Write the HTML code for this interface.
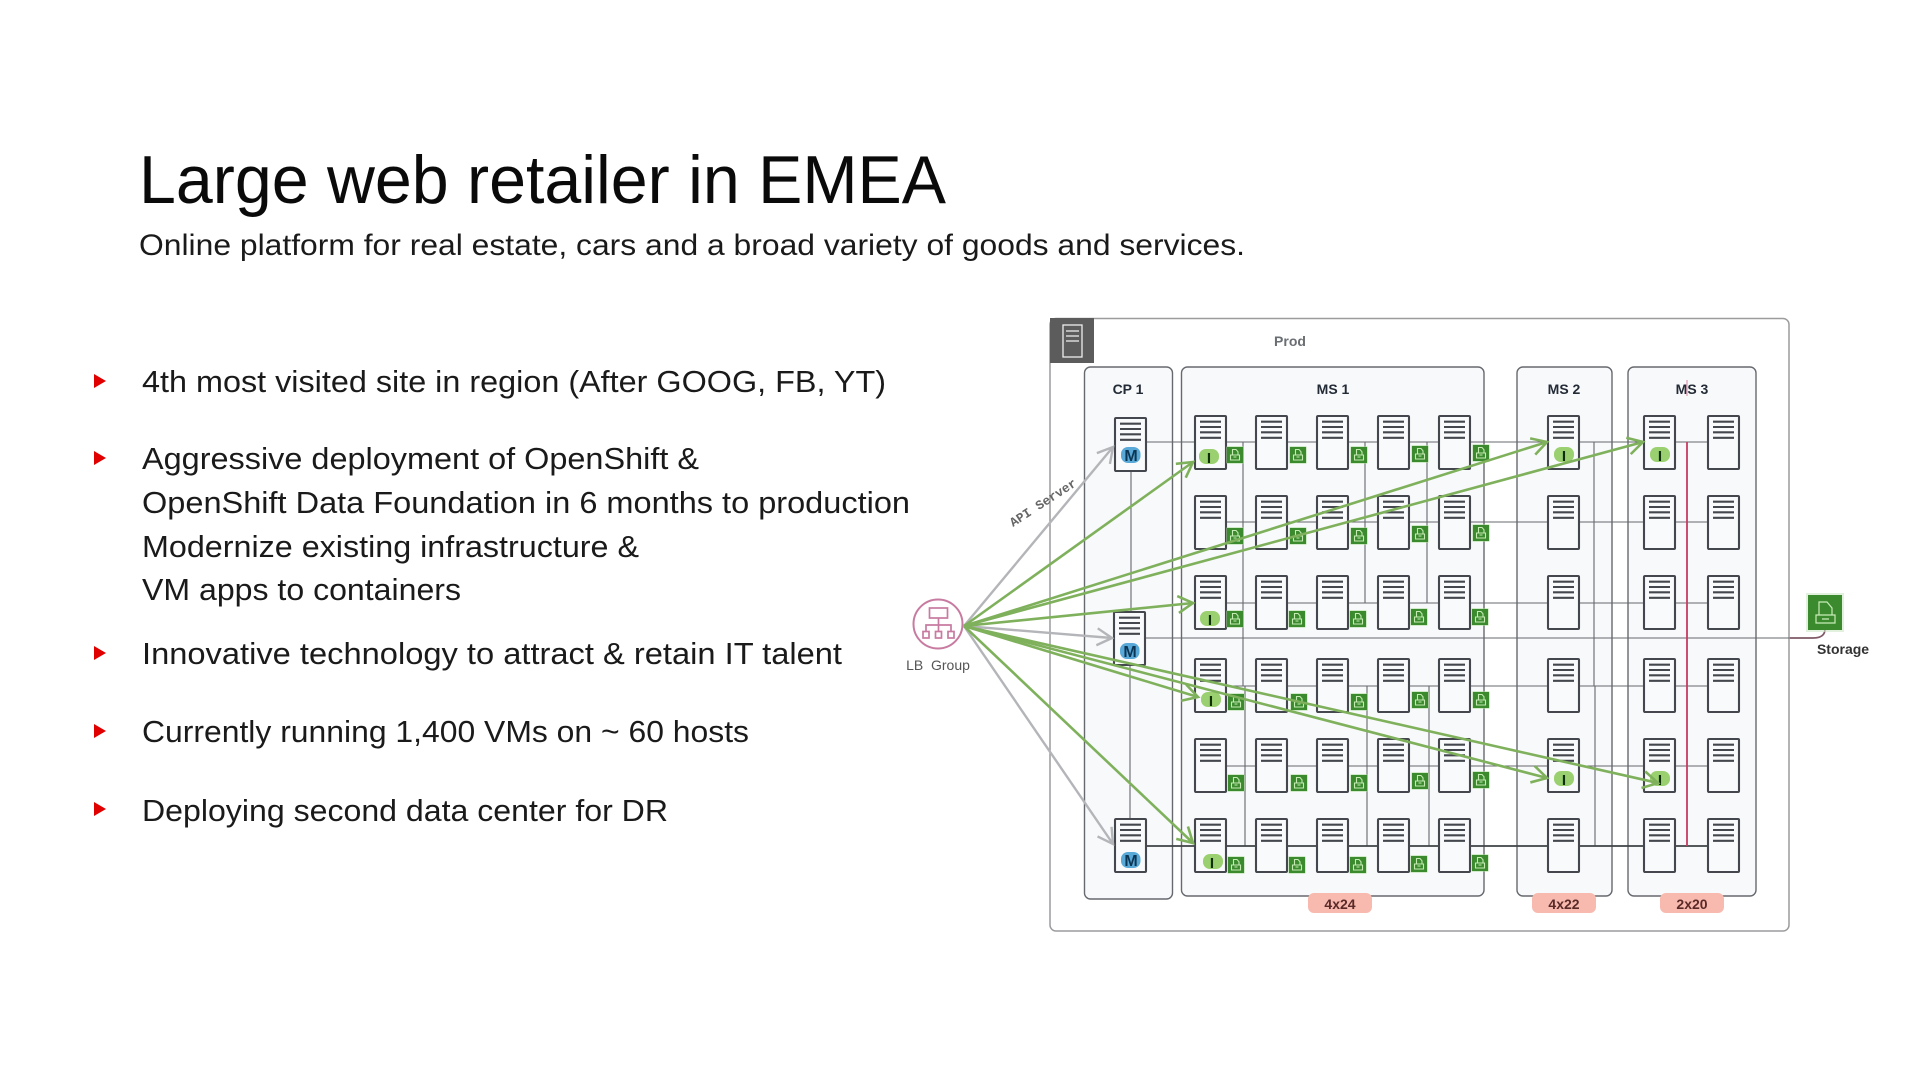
<!DOCTYPE html>
<html lang="en"><head><meta charset="utf-8"><title>Large web retailer in EMEA</title>
<style>
html,body{margin:0;padding:0;background:#fff;width:1920px;height:1080px;overflow:hidden}
svg{display:block}
text{font-family:"Liberation Sans",sans-serif}
.b{font-size:31px;fill:#1a1a1a}
.h{font-size:14px;font-weight:bold;fill:#232b36;text-anchor:middle}
.p{font-size:14px;font-weight:bold;fill:#5a2a28;text-anchor:middle}
.m{font-size:16px;font-weight:bold;fill:#0c3554;text-anchor:middle}
.i{font-size:15px;font-weight:bold;fill:#0f2f0c;text-anchor:middle}
</style></head><body>
<svg width="1920" height="1080" viewBox="0 0 1920 1080" xmlns="http://www.w3.org/2000/svg">
<defs>
<g id="s"><rect x="0" y="0" width="31" height="53" fill="#f9fafb" stroke="#44484e" stroke-width="2.100" rx="1"/>
<path d="M5 5.700H26M5 11H26M5 16.300H26M5 21.800H26" stroke="#44484e" stroke-width="2.100" fill="none"/></g>
<g id="ic"><rect x="-1" y="-1" width="18" height="18" fill="#a9dc98" opacity=".5" rx="2"/><rect width="16" height="16" fill="#3b8a2d"/>
<path d="M5.500 2.500H9L11 4.800V8H5.500ZM3.500 8H12.500V13H3.500ZM6.500 10H9.500" fill="none" stroke="#c3ebb2" stroke-width="1.100"/></g>
<rect id="bi" width="20" height="15" rx="7" fill="#9ad06f"/>
<rect id="bm" width="19.500" height="16" rx="7" fill="#58a8d8"/>
<marker id="ag" markerUnits="userSpaceOnUse" markerWidth="24" markerHeight="24" refX="20" refY="12" orient="auto" overflow="visible"><path d="M5 3.500L20 12L5 20.500" fill="none" stroke="#7fb15c" stroke-width="2.600"/></marker>
<marker id="aw" markerUnits="userSpaceOnUse" markerWidth="24" markerHeight="24" refX="20" refY="12" orient="auto" overflow="visible"><path d="M5 3.500L20 12L5 20.500" fill="none" stroke="#b4b5b9" stroke-width="2.400"/></marker>
</defs>

<!-- Text -->
<text x="139" y="203" font-size="68" fill="#0a0a0a" textLength="807" lengthAdjust="spacingAndGlyphs">Large web retailer in EMEA</text>
<text x="139" y="255" font-size="30" fill="#1a1a1a" textLength="1106" lengthAdjust="spacingAndGlyphs">Online platform for real estate, cars and a broad variety of goods and services.</text>
<path d="M94 374L106 381L94 388ZM94 451L106 458L94 465ZM94 646L106 653L94 660ZM94 724L106 731L94 738ZM94 802L106 809L94 816Z" fill="#e00000"/>
<text class="b" x="142" y="392" textLength="744" lengthAdjust="spacingAndGlyphs">4th most visited site in region (After GOOG, FB, YT)</text>
<text class="b" x="142" y="469" textLength="557" lengthAdjust="spacingAndGlyphs">Aggressive deployment of OpenShift &amp;</text>
<text class="b" x="142" y="513" textLength="768" lengthAdjust="spacingAndGlyphs">OpenShift Data Foundation in 6 months to production</text>
<text class="b" x="142" y="557" textLength="497" lengthAdjust="spacingAndGlyphs">Modernize existing infrastructure &amp;</text>
<text class="b" x="142" y="600" textLength="319" lengthAdjust="spacingAndGlyphs">VM apps to containers</text>
<text class="b" x="142" y="664" textLength="700" lengthAdjust="spacingAndGlyphs">Innovative technology to attract &amp; retain IT talent</text>
<text class="b" x="142" y="742" textLength="607" lengthAdjust="spacingAndGlyphs">Currently running 1,400 VMs on ~ 60 hosts</text>
<text class="b" x="142" y="821" textLength="526" lengthAdjust="spacingAndGlyphs">Deploying second data center for DR</text>

<!-- Containers -->
<rect x="1050" y="318.500" width="739" height="612.500" rx="6" fill="#fff" stroke="#9c9c9f" stroke-width="1.500"/>
<rect x="1050" y="318" width="44" height="45" fill="#5c5c5c"/>
<rect x="1063" y="325" width="19" height="32" fill="none" stroke="#eee" stroke-width="1.300"/>
<path d="M1066 331H1079M1066 336H1079M1066 341H1079" stroke="#eee" stroke-width="1.200"/>
<text x="1290" y="346" font-size="14" font-weight="bold" fill="#6a6e73" text-anchor="middle">Prod</text>
<g fill="#f8f9fa" stroke="#66696e" stroke-width="1.400">
<rect x="1084.500" y="367" width="88" height="532" rx="6"/>
<rect x="1181.500" y="367" width="302.500" height="529" rx="6"/>
<rect x="1517" y="367" width="95" height="529" rx="6"/>
<rect x="1628" y="367" width="128" height="529" rx="6"/>
</g>
<text class="h" x="1128" y="394">CP 1</text><text class="h" x="1333" y="394">MS 1</text><text class="h" x="1564" y="394">MS 2</text><text class="h" x="1692" y="394">MS 3</text>
<g fill="#f8b9ae"><rect x="1308" y="893" width="64" height="20" rx="6"/><rect x="1532" y="893" width="64" height="20" rx="6"/><rect x="1660" y="893" width="64" height="20" rx="6"/></g>
<text class="p" x="1340" y="909">4x24</text><text class="p" x="1564" y="909">4x22</text><text class="p" x="1692" y="909">2x20</text>

<!-- Connectors -->
<g fill="none" stroke="#65686d" stroke-width="1.100">
<path d="M1146 442H1708M1226 522H1708M1226 603H1708M1226 686H1708M1226 766H1708"/>
<path d="M1243 442V686M1245 686V846M1365 442V603M1367 686V846M1427 442V603M1429 686V846M1594 442V686M1595 686V846"/>
<path d="M1131 472V612M1130 665V819"/>
<path d="M1145 638H1790"/>
</g>
<path d="M1146 846H1708" fill="none" stroke="#3f4246" stroke-width="1.700"/>
<path d="M1687 442V846" stroke="#c63a63" stroke-width="1.800"/>
<path d="M1687 380V396" stroke="#d98aa2" stroke-width="1.500" opacity=".7"/>
<path d="M1790 638H1813Q1825 638 1825 629" fill="none" stroke="#7f5a66" stroke-width="1.700"/>

<!-- Servers -->
<use href="#s" x="1115" y="418"/><use href="#s" x="1114" y="612"/><use href="#s" x="1115" y="819"/>
<use href="#s" x="1195" y="416"/><use href="#s" x="1256" y="416"/><use href="#s" x="1317" y="416"/><use href="#s" x="1378" y="416"/><use href="#s" x="1439" y="416"/>
<use href="#s" x="1195" y="496"/><use href="#s" x="1256" y="496"/><use href="#s" x="1317" y="496"/><use href="#s" x="1378" y="496"/><use href="#s" x="1439" y="496"/>
<use href="#s" x="1195" y="576"/><use href="#s" x="1256" y="576"/><use href="#s" x="1317" y="576"/><use href="#s" x="1378" y="576"/><use href="#s" x="1439" y="576"/>
<use href="#s" x="1195" y="659"/><use href="#s" x="1256" y="659"/><use href="#s" x="1317" y="659"/><use href="#s" x="1378" y="659"/><use href="#s" x="1439" y="659"/>
<use href="#s" x="1195" y="739"/><use href="#s" x="1256" y="739"/><use href="#s" x="1317" y="739"/><use href="#s" x="1378" y="739"/><use href="#s" x="1439" y="739"/>
<use href="#s" x="1195" y="819"/><use href="#s" x="1256" y="819"/><use href="#s" x="1317" y="819"/><use href="#s" x="1378" y="819"/><use href="#s" x="1439" y="819"/>
<use href="#s" x="1548" y="416"/><use href="#s" x="1548" y="496"/><use href="#s" x="1548" y="576"/><use href="#s" x="1548" y="659"/><use href="#s" x="1548" y="739"/><use href="#s" x="1548" y="819"/>
<use href="#s" x="1644" y="416"/><use href="#s" x="1644" y="496"/><use href="#s" x="1644" y="576"/><use href="#s" x="1644" y="659"/><use href="#s" x="1644" y="739"/><use href="#s" x="1644" y="819"/>
<use href="#s" x="1708" y="416"/><use href="#s" x="1708" y="496"/><use href="#s" x="1708" y="576"/><use href="#s" x="1708" y="659"/><use href="#s" x="1708" y="739"/><use href="#s" x="1708" y="819"/>

<!-- Storage icons -->
<use href="#ic" x="1227" y="447"/><use href="#ic" x="1290" y="447"/><use href="#ic" x="1351" y="447"/><use href="#ic" x="1412" y="446"/><use href="#ic" x="1473" y="445"/>
<use href="#ic" x="1227" y="528"/><use href="#ic" x="1290" y="528"/><use href="#ic" x="1351" y="528"/><use href="#ic" x="1412" y="526"/><use href="#ic" x="1473" y="525"/>
<use href="#ic" x="1227" y="611"/><use href="#ic" x="1289" y="611"/><use href="#ic" x="1350" y="611"/><use href="#ic" x="1411" y="609"/><use href="#ic" x="1472" y="609"/>
<use href="#ic" x="1228" y="694"/><use href="#ic" x="1291" y="694"/><use href="#ic" x="1351" y="694"/><use href="#ic" x="1412" y="692"/><use href="#ic" x="1473" y="692"/>
<use href="#ic" x="1228" y="775"/><use href="#ic" x="1291" y="775"/><use href="#ic" x="1351" y="775"/><use href="#ic" x="1412" y="773"/><use href="#ic" x="1473" y="772"/>
<use href="#ic" x="1228" y="857"/><use href="#ic" x="1289" y="857"/><use href="#ic" x="1350" y="857"/><use href="#ic" x="1411" y="856"/><use href="#ic" x="1472" y="855"/>

<!-- Badges -->
<use href="#bm" x="1121" y="447"/><text class="m" x="1131" y="461">M</text>
<use href="#bm" x="1120" y="643"/><text class="m" x="1130" y="657">M</text>
<use href="#bm" x="1121" y="852"/><text class="m" x="1131" y="866">M</text>
<use href="#bi" x="1199" y="449"/><text class="i" x="1209" y="463">I</text>
<use href="#bi" x="1200" y="611"/><text class="i" x="1210" y="625">I</text>
<use href="#bi" x="1201" y="692"/><text class="i" x="1211" y="706">I</text>
<use href="#bi" x="1203" y="854"/><text class="i" x="1212" y="868">I</text>
<use href="#bi" x="1554" y="447"/><text class="i" x="1564" y="461">I</text>
<use href="#bi" x="1650" y="447"/><text class="i" x="1660" y="461">I</text>
<use href="#bi" x="1554" y="771"/><text class="i" x="1564" y="785">I</text>
<use href="#bi" x="1650" y="771"/><text class="i" x="1660" y="785">I</text>

<!-- Storage node -->
<rect x="1806" y="593" width="38" height="39" fill="#cfe8c6" opacity=".6"/>
<rect x="1808" y="595" width="34" height="35" fill="#3b8a2d"/>
<path d="M1819 602H1827L1832 608V615H1819ZM1816 615H1835V623H1816ZM1822 619H1829" fill="none" stroke="#c8ecb8" stroke-width="1.200"/>
<text x="1843" y="654" font-size="14" font-weight="bold" fill="#333" text-anchor="middle">Storage</text>

<!-- LB -->
<circle cx="938" cy="624" r="24.500" fill="#fff" stroke="#c87ba0" stroke-width="2"/>
<g fill="none" stroke="#c87ba0" stroke-width="1.700">
<rect x="929.500" y="608" width="18" height="10"/>
<path d="M938.500 618V625M926 631V625H951V631M938.500 625V631"/>
<rect x="923" y="631.500" width="6" height="6.500"/><rect x="935.500" y="631.500" width="6" height="6.500"/><rect x="948" y="631.500" width="6" height="6.500"/>
</g>
<text x="938" y="670" font-size="14" fill="#555" text-anchor="middle" xml:space="preserve">LB  Group</text>

<!-- Arrows -->
<g fill="none" stroke="#b4b5b9" stroke-width="2.400">
<path d="M964 626L1113 447" marker-end="url(#aw)"/>
<path d="M964 626L1112 638" marker-end="url(#aw)"/>
<path d="M964 626L1113 844" marker-end="url(#aw)"/>
</g>
<g fill="none" stroke="#7fb15c" stroke-width="2.600">
<path d="M964 626L1193 462" marker-end="url(#ag)"/>
<path d="M964 626L1193 603" marker-end="url(#ag)"/>
<path d="M964 626L1547 442" marker-end="url(#ag)"/>
<path d="M964 626L1643 442" marker-end="url(#ag)"/>
<path d="M964 626L1198 697" marker-end="url(#ag)"/>
<path d="M964 626L1193 843" marker-end="url(#ag)"/>
<path d="M964 626L1547 778" marker-end="url(#ag)"/>
<path d="M964 626L1658 783" marker-end="url(#ag)"/>
</g>
<text x="1013" y="527" transform="rotate(-33 1013 527)" style="font-family:'Liberation Mono',monospace" font-size="12.800" font-weight="bold" fill="#666">API Server</text>
</svg>
</body></html>
